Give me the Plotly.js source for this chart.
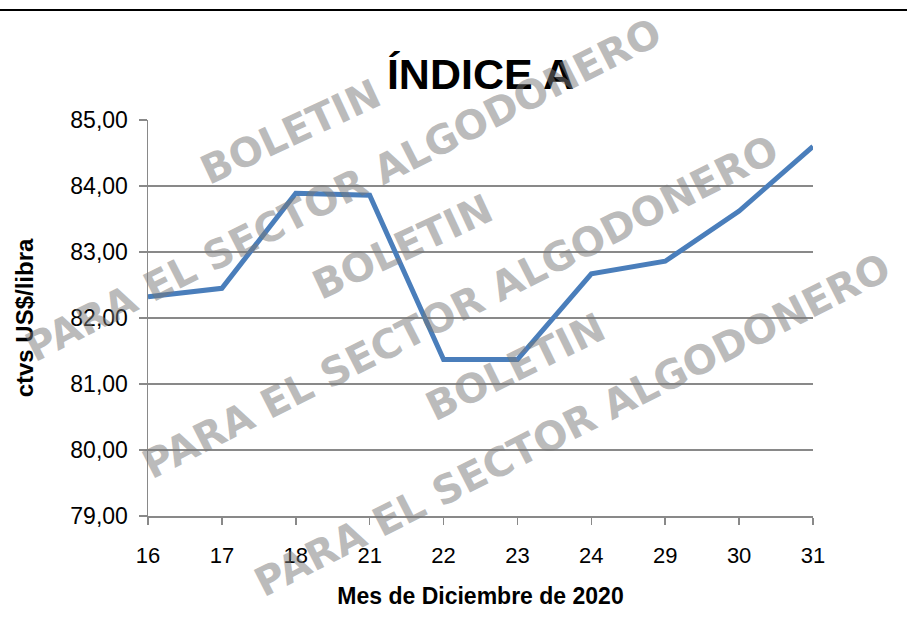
<!DOCTYPE html>
<html>
<head>
<meta charset="utf-8">
<script src="https://cdn.plot.ly/plotly-3.0.1.min.js"></script>
<style>
  html, body { margin: 0; padding: 0; background: #fff; }
  #chart { width: 907px; height: 624px; }
</style>
</head>
<body>
<div id="chart"></div>
<script>
// Data
const days = ['16', '17', '18', '21', '22', '23', '24', '29', '30', '31'];
const indiceA = [82.32, 82.45, 83.89, 83.86, 81.37, 81.37, 82.67, 82.86, 83.62, 84.60];
const yTicks = [79, 80, 81, 82, 83, 84, 85];
const chartTitle = 'ÍNDICE A';
const yTitle = 'ctvs US$/libra';
const xTitle = 'Mes de Diciembre de 2020';
const wmBoletin = 'BOLETIN';
const wmSector = 'PARA EL SECTOR ALGODONERO';

const wmFont = { family: 'DejaVu Sans, sans-serif', size: 40, color: 'rgba(120,120,120,0.5)', weight: 'bold' };
// watermark placed by pixel centre on the 907x624 page, converted to paper coords
const L = 148, R = 94, T = 120, B = 108, W = 907, H = 624;
function wm(text, px, py, angle) {
  return { text: text, xref: 'paper', yref: 'paper',
           x: (px - L) / (W - L - R), y: (H - B - py) / (H - T - B),
           xanchor: 'center', yanchor: 'middle',
           textangle: angle, showarrow: false, font: wmFont };
}

const trace = {
  type: 'scatter', mode: 'lines', x: days, y: indiceA,
  line: { color: '#4a7ebb', width: 5 },
  hoverinfo: 'skip'
};

const layout = {
  width: W, height: H,
  margin: { l: L, r: R, t: T, b: B },
  paper_bgcolor: '#ffffff', plot_bgcolor: '#ffffff',
  separators: ',.',
  showlegend: false,
  font: { family: 'Liberation Sans, Arial, sans-serif', color: '#000' },
  title: { text: chartTitle, x: 0.5, xanchor: 'center', xref: 'paper', y: 0.882, yanchor: 'middle',
           font: { family: 'Liberation Sans, Arial, sans-serif', size: 43, weight: 'bold', color: '#000' } },
  xaxis: {
    type: 'category', range: [0, 9],
    showgrid: false, zeroline: false,
    showline: true, linecolor: '#898989', linewidth: 1.5,
    ticks: 'outside', ticklen: 7, tickwidth: 1.5, tickcolor: '#898989',
    tickfont: { size: 22, color: '#000' }, ticklabelstandoff: 12,
    title: { text: xTitle, standoff: 21, font: { size: 23, weight: 'bold' } }
  },
  yaxis: {
    range: [79, 85], tickvals: yTicks, tickformat: '.2f',
    showgrid: true, gridcolor: '#898989', gridwidth: 1.5,
    zeroline: false, showline: true, linecolor: '#898989', linewidth: 1.5,
    ticks: 'outside', ticklen: 8, tickwidth: 1.5, tickcolor: '#898989',
    tickfont: { size: 23, color: '#000' }, ticklabelstandoff: 6,
    title: { text: yTitle, standoff: 30, font: { size: 24, weight: 'bold' } }
  },
  shapes: [
    { type: 'line', xref: 'paper', yref: 'paper', x0: -0.25, x1: 1.2, y0: 1.278, y1: 1.278,
      line: { color: '#000', width: 2 } }
  ],
  annotations: [
    wm(wmBoletin, 290, 132, -25),
    wm(wmSector, 343, 190, -27),
    wm(wmBoletin, 402, 247, -25),
    wm(wmSector, 460, 307, -27),
    wm(wmBoletin, 515, 367, -26),
    wm(wmSector, 572, 425, -27)
  ]
};

Plotly.newPlot('chart', [trace], layout, { displayModeBar: false, staticPlot: true });
</script>
</body>
</html>
